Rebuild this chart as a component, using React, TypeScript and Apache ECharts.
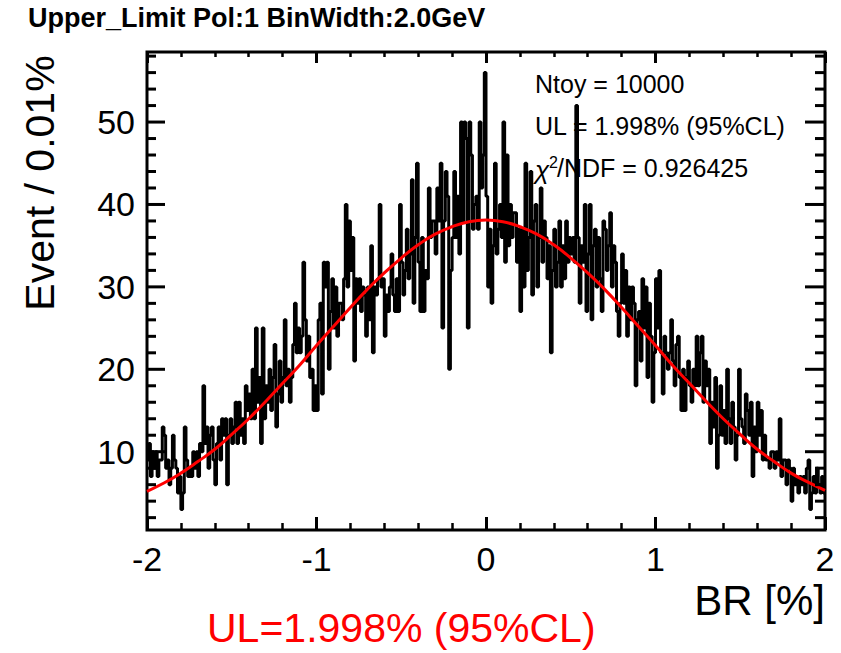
import React, { useEffect, useRef } from "react";
import * as echarts from "echarts";

// Histogram: 400 bins of width 0.01 from -2 to 2 (counts)
const binLow = -2;
const binWidth = 0.01;
const counts = [
  9, 11, 7, 10, 8, 10, 7, 9, 9, 13,
  12, 8, 9, 6, 8, 12, 9, 8, 5, 7,
  3, 5, 13, 9, 7, 8, 7, 10, 8, 10,
  7, 11, 10, 18, 11, 13, 8, 12, 13, 9,
  6, 11, 13, 9, 14, 12, 14, 6, 12, 14,
  11, 13, 16, 11, 16, 12, 14, 11, 18, 15,
  17, 14, 20, 14, 25, 16, 19, 11, 25, 14,
  18, 16, 20, 15, 19, 23, 13, 17, 21, 16,
  19, 26, 18, 20, 16, 19, 23, 28, 22, 25,
  22, 24, 33, 26, 21, 24, 19, 20, 15, 18,
  15, 26, 28, 17, 33, 30, 33, 20, 27, 31,
  25, 30, 24, 28, 28, 26, 31, 40, 30, 38,
  32, 36, 21, 31, 28, 31, 27, 30, 29, 24,
  30, 26, 35, 22, 30, 29, 31, 40, 30, 31,
  24, 29, 27, 30, 34, 29, 27, 31, 27, 40,
  33, 29, 32, 37, 31, 34, 43, 28, 36, 45,
  33, 27, 36, 27, 32, 31, 42, 36, 38, 38,
  34, 42, 38, 45, 25, 38, 44, 41, 20, 32,
  36, 44, 36, 41, 34, 50, 38, 50, 48, 25,
  50, 46, 37, 40, 41, 37, 50, 42, 46, 56,
  41, 30, 37, 28, 35, 45, 34, 37, 40, 36,
  50, 33, 46, 35, 40, 36, 39, 39, 33, 37,
  27, 37, 30, 45, 32, 36, 44, 29, 38, 40,
  30, 36, 42, 33, 38, 36, 31, 35, 22, 32,
  37, 30, 33, 38, 30, 35, 31, 38, 33, 36,
  34, 36, 33, 52, 36, 28, 35, 33, 40, 27,
  34, 40, 26, 35, 37, 30, 36, 31, 27, 38,
  37, 32, 35, 39, 30, 35, 33, 27, 24, 28,
  34, 28, 32, 24, 30, 26, 30, 28, 18, 26,
  27, 21, 31, 25, 30, 19, 28, 24, 16, 22,
  31, 25, 32, 22, 17, 24, 22, 20, 22, 26,
  21, 18, 23, 24, 19, 15, 20, 15, 19, 21,
  18, 16, 20, 18, 24, 18, 22, 24, 16, 21,
  18, 20, 11, 16, 13, 19, 8, 12, 18, 12,
  15, 11, 20, 14, 11, 16, 13, 9, 12, 20,
  14, 13, 11, 17, 15, 12, 16, 7, 13, 10,
  16, 12, 15, 9, 12, 9, 9, 8, 10, 10,
  8, 10, 9, 14, 7, 9, 9, 6, 9, 8,
  4, 8, 6, 7, 5, 7, 6, 7, 5, 8,
  9, 3, 5, 7, 5, 8, 6, 5, 7, 5,
];

// Red fit curve
const fitX = [
  -2.0, -1.9, -1.8, -1.7, -1.6, -1.5, -1.4, -1.3, -1.2, -1.1, -1.0,
  -0.9, -0.8, -0.7, -0.6, -0.5, -0.4, -0.3, -0.2, -0.1, 0.0,
  0.1, 0.2, 0.3, 0.4, 0.5, 0.6, 0.7, 0.8, 0.9, 1.0,
  1.1, 1.2, 1.3, 1.4, 1.5, 1.6, 1.7, 1.8, 1.9, 2.0,
];
const fitY = [
  5.2, 6.2, 7.4, 8.8, 10.3, 12.1, 14.0, 16.1, 18.3, 20.5, 22.9,
  25.2, 27.5, 29.7, 31.7, 33.5, 35.1, 36.4, 37.3, 37.9, 38.1,
  37.9, 37.3, 36.4, 35.1, 33.5, 31.7, 29.7, 27.5, 25.2, 22.9,
  20.5, 18.3, 16.1, 14.0, 12.1, 10.3, 8.8, 7.4, 6.3, 5.3,
];

const yMajorTicks = [10, 20, 30, 40, 50];
const yMinorTicks = [2, 4, 6, 8, 12, 14, 16, 18, 22, 24, 26, 28, 32, 34, 36, 38, 42, 44, 46, 48, 52, 54, 56, 58];

const titleText = "Upper_Limit Pol:1 BinWidth:2.0GeV";
const yName = "Event / 0.01%";
const xName = "BR [%]";
const statLines = ["Ntoy = 10000", "UL = 1.998% (95%CL)"];
const chiRest = "/NDF = 0.926425";
const ulNote = "UL=1.998% (95%CL)";

const FONT = "Liberation Sans";

export default function App() {
  const ref = useRef<HTMLDivElement>(null);
  useEffect(() => {
    const chart = echarts.init(ref.current!, null, { renderer: "svg" });
    const histData: number[][] = counts.map((c, i) => [
      Math.round((binLow + i * binWidth) * 10000) / 10000,
      c,
    ]);
    histData.push([Math.round((binLow + counts.length * binWidth) * 10000) / 10000, counts[counts.length - 1]]);
    const fitData = fitX.map((x, i) => [x, fitY[i]]);
    const tickData = [
      ...yMajorTicks.map((v) => [0, v, 1]),
      ...yMinorTicks.map((v) => [0, v, 0]),
    ];

    const txt = (o: any) => ({
      type: "text",
      ...o,
      style: {
        fontFamily: FONT,
        fill: "#000",
        textVerticalAlign: "middle",
        verticalAlign: "middle",
        ...o.style,
      },
    });

    const option: any = {
      animation: false,
      backgroundColor: "#ffffff",
      grid: {
        left: 147,
        right: 841 - 825,
        top: 52,
        bottom: 653 - 530,
        show: true,
        borderColor: "#000",
        borderWidth: 3,
        backgroundColor: "transparent",
      },
      xAxis: [
        {
          type: "value",
          min: -2,
          max: 2,
          interval: 1,
          axisLine: { show: false },
          splitLine: { show: false },
          axisTick: { show: true, inside: true, length: 13, lineStyle: { color: "#000", width: 3 } },
          minorTick: { show: true, splitNumber: 5, length: 7, lineStyle: { color: "#000", width: 2.5 } },
          axisLabel: { show: true, fontFamily: FONT, fontSize: 34, color: "#000", margin: 12 },
        },
        {
          type: "value",
          position: "top",
          min: -2,
          max: 2,
          interval: 1,
          axisLine: { show: false },
          splitLine: { show: false },
          axisTick: { show: true, inside: true, length: 11, lineStyle: { color: "#000", width: 3 } },
          minorTick: { show: true, splitNumber: 5, length: 5, lineStyle: { color: "#000", width: 2.5 } },
          axisLabel: { show: false },
        },
      ],
      yAxis: [
        {
          type: "value",
          min: 0.5,
          max: 58.5,
          axisLine: { show: false },
          splitLine: { show: false },
          axisTick: { show: false },
          axisLabel: {
            show: true,
            fontFamily: FONT,
            fontSize: 34,
            color: "#000",
            margin: 12,
            formatter: (v: number) => (Math.abs(v % 10) < 1e-9 && v > 0 ? String(v) : ""),
          },
        },
      ],
      series: [
        {
          type: "line",
          xAxisIndex: 0,
          yAxisIndex: 0,
          data: histData,
          step: "end",
          symbol: "none",
          lineStyle: { color: "#000", width: 3 },
          z: 3,
          silent: true,
        },
        {
          type: "line",
          xAxisIndex: 0,
          yAxisIndex: 0,
          data: fitData,
          smooth: true,
          symbol: "none",
          lineStyle: { color: "#ff0000", width: 3 },
          z: 4,
          silent: true,
        },
        {
          type: "custom",
          xAxisIndex: 0,
          yAxisIndex: 0,
          data: tickData,
          encode: { x: 0, y: 1 },
          silent: true,
          clip: false,
          z: 5,
          renderItem: (params: any, api: any) => {
            const v = api.value(1);
            const major = api.value(2) === 1;
            const l = api.coord([-2, v]);
            const r = api.coord([2, v]);
            const lenL = major ? 18 : 9;
            const lenR = major ? 20 : 10;
            return {
              type: "group",
              children: [
                {
                  type: "line",
                  shape: { x1: l[0], y1: l[1], x2: l[0] + lenL, y2: l[1] },
                  style: { stroke: "#000", lineWidth: 3 },
                },
                {
                  type: "line",
                  shape: { x1: r[0] - lenR, y1: r[1], x2: r[0], y2: r[1] },
                  style: { stroke: "#000", lineWidth: 3 },
                },
              ],
            };
          },
        },
      ],
      graphic: [
        txt({ x: 28, y: 18, style: { text: titleText, fontSize: 27, fontWeight: "bold" } }),
        txt({
          x: 40,
          y: 183,
          rotation: Math.PI / 2,
          style: { text: yName, fontSize: 41, textAlign: "center", align: "center" },
        }),
        txt({ x: 825, y: 600, style: { text: xName, fontSize: 42, textAlign: "right", align: "right" } }),
        txt({ x: 207, y: 628, style: { text: ulNote, fontSize: 41, fill: "#ff0000" } }),
        txt({ x: 535, y: 84, style: { text: statLines[0], fontSize: 25 } }),
        txt({ x: 535, y: 126, style: { text: statLines[1], fontSize: 25 } }),
        txt({ x: 535, y: 170, style: { text: "χ", fontSize: 26, fontStyle: "italic" } }),
        txt({ x: 549, y: 162, style: { text: "2", fontSize: 16 } }),
        txt({ x: 557, y: 168, style: { text: chiRest, fontSize: 25 } }),
      ],
    };
    chart.setOption(option);
    return () => chart.dispose();
  }, []);
  return (
    <div
      ref={ref}
      style={{ position: "absolute", left: 0, top: 0, width: 841, height: 653, background: "#fff" }}
    />
  );
}
